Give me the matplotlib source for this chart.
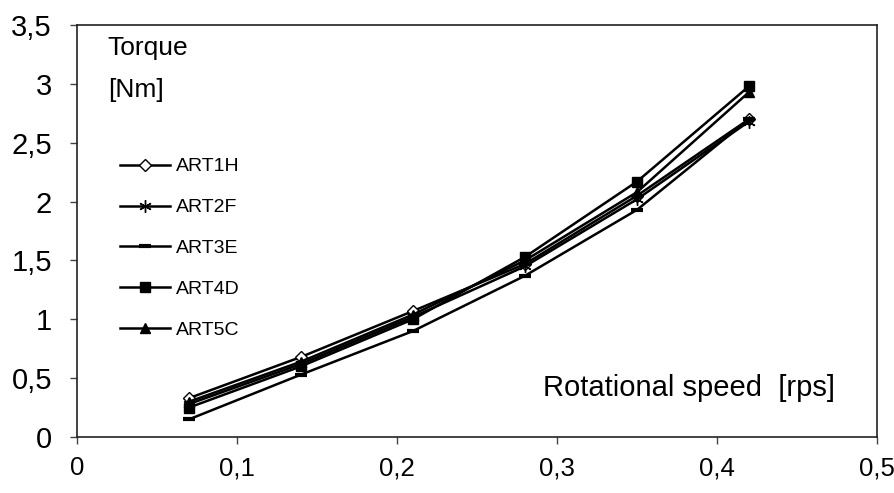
import matplotlib
matplotlib.use("Agg")
import matplotlib.pyplot as plt

plt.rcParams['font.family'] = ['Liberation Sans', 'DejaVu Sans']

speed = [0.07, 0.14, 0.21, 0.28, 0.35, 0.42]
series_names = ["ART1H", "ART2F", "ART3E", "ART4D", "ART5C"]
art1h = [0.33, 0.68, 1.07, 1.47, 2.05, 2.70]
art2f = [0.28, 0.62, 1.02, 1.45, 2.02, 2.68]
art3e = [0.15, 0.53, 0.90, 1.37, 1.93, 2.70]
art4d = [0.25, 0.60, 1.00, 1.53, 2.17, 2.98]
art5c = [0.30, 0.64, 1.04, 1.50, 2.08, 2.93]
x_ticks = [0, 0.1, 0.2, 0.3, 0.4, 0.5]
x_labels = ["0", "0,1", "0,2", "0,3", "0,4", "0,5"]
y_ticks = [0, 0.5, 1, 1.5, 2, 2.5, 3, 3.5]
y_labels = ["0", "0,5", "1", "1,5", "2", "2,5", "3", "3,5"]

fig = plt.figure(figsize=(8.95, 4.93), dpi=100)
ax = fig.add_axes([77/895, 56/493, 800/895, 412/493])

styles = [
    dict(marker='D', markerfacecolor='white', markersize=6),
    dict(marker=(6, 2, 0), markersize=9),
    dict(marker='_', markersize=9, markeredgewidth=3),
    dict(marker='s', markersize=7),
    dict(marker='^', markersize=7),
]
for name, vals, st in zip(series_names, [art1h, art2f, art3e, art4d, art5c], styles):
    ax.plot(speed, vals, color='black', lw=1.8, label=name,
            markeredgecolor='black', **({'markerfacecolor': 'black'} | st))

ax.set_xlim(0, 0.5)
ax.set_ylim(0, 3.5)
ax.set_xticks(x_ticks)
ax.set_xticklabels(x_labels)
ax.set_yticks(y_ticks)
ax.set_yticklabels(y_labels)
ax.tick_params(axis='both', direction='out', length=5, width=1, color='#444444')
ax.tick_params(axis='x', labelsize=18.5, pad=9)
ax.tick_params(axis='y', labelsize=21, pad=13)
for s in ax.spines.values():
    s.set_linewidth(1.2)
    s.set_color('#222222')

fig.text(107/895, 1 - 48/493, "Torque", fontsize=19, va='center', ha='left')
fig.text(108/895, 1 - 90/493, "[Nm]", fontsize=19, va='center', ha='left')
fig.text(543/895, 1 - 388/493, "Rotational speed  [rps]", fontsize=21, va='center', ha='left')

ax.legend(loc='upper left', bbox_to_anchor=(112/895, 1 - 150/493), bbox_transform=fig.transFigure,
          frameon=False, fontsize=14, handlelength=2.6, handletextpad=0.3, labelspacing=1.2,
          borderaxespad=0)

fig.savefig("out.png", dpi=100)
